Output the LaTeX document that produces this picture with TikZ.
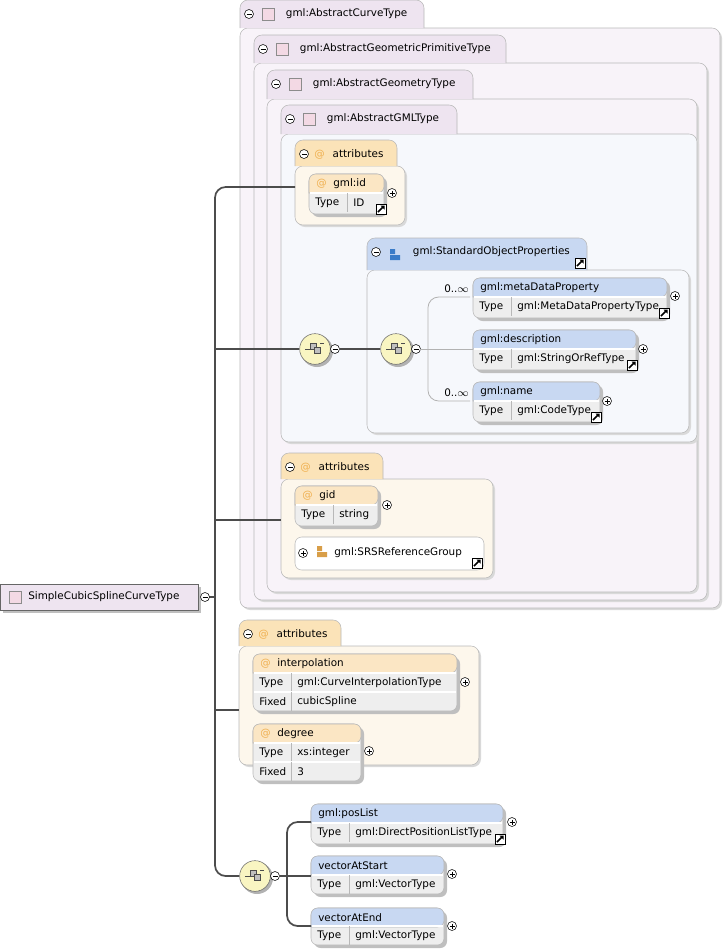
\documentclass[tikz,border=0pt]{standalone}
\usepackage{fontspec}
\setmainfont{DejaVu Sans}
\begin{document}
\definecolor{lav}{HTML}{F8F3F9}
\definecolor{lavtab}{HTML}{EEE4F0}
\definecolor{bord}{HTML}{B8B8B8}
\definecolor{attbody}{HTML}{FDF7EC}
\definecolor{atttab}{HTML}{FBE3B8}
\definecolor{blhdr}{HTML}{C8D8F2}
\definecolor{blbody}{HTML}{F6F8FC}
\definecolor{orhdr}{HTML}{FBE6C4}
\definecolor{rowg}{HTML}{EEEEEE}
\definecolor{atc}{HTML}{F0B050}
\definecolor{seqf}{HTML}{F9F5C2}
\definecolor{grpblue}{HTML}{3A7BC8}
\begin{tikzpicture}[x=0.75pt,y=-0.75pt,font=\fontsize{7.8}{9}\selectfont,
  txt/.style={inner sep=0pt,anchor=west},
  conn/.style={draw=black!70,line width=1.3pt,rounded corners=8},
  thin/.style={draw=black!30,line width=0.6pt,rounded corners=8}]
\useasboundingbox (0,0) rectangle (723,951);
\newcommand\mn[2]{\draw[black,fill=white] (#1,#2) circle (4.5); \draw[black] (#1-2.5,#2) -- (#1+2.5,#2);}
\newcommand\pl[2]{\mn{#1}{#2}\draw[black] (#1,#2-2.5) -- (#1,#2+2.5);}
\newcommand\ctr[9]{%
 \fill[black!15,rounded corners=6] (#1+2,#4+2) rectangle (#5+2,#6+2);
 \draw[bord,fill=#8,rounded corners=6] (#1,#4) rectangle (#5,#6);
 \draw[bord,fill=#7,rounded corners=6] (#1,#4) -- (#1,#2) -- (#3,#2) -- (#3,#4);
 \mn{#1+9}{#2+14}
 \node[txt] at (#1+19,#2+14) {#9};}
\newcommand\elm[7]{%
 \fill[black!25,rounded corners=5] (#2+3,#3+3) rectangle (#4+3,#5+3);
 \draw[bord,fill=rowg,rounded corners=5] (#2,#3) rectangle (#4,#5);
 \draw[bord,fill=#6,rounded corners=5] (#2,#3+19) -- (#2,#3) -- (#4,#3) -- (#4,#3+19) [sharp corners] -- cycle;
 \node[txt] (#1) at (#2+7,#3+9.5) {#7};}
\newcommand\rw[5]{%
 \draw[white,line width=1pt] (#1+1,#2) -- (#3-1,#2);
 \draw[bord] (#1+38,#2) -- (#1+38,#2+19);
 \node[txt] at (#1+6,#2+9.5) {#4};
 \node[txt] at (#1+44,#2+9.5) {#5};}
\newcommand\lnk[2]{\draw[black,fill=white] (#1-5,#2-5) rectangle (#1+5,#2+5); \draw[black,line width=1.2pt] (#1-3,#2+3) -- (#1+2.5,#2-2.5); \fill (#1+3.5,#2-3.5) -- (#1-0.5,#2-3.5) -- (#1+3.5,#2+0.5) -- cycle;}
\newcommand\seq[3]{%
 \fill[black!30] (#2+2,#3+2) circle (16);
 \node[circle,draw=black!60,fill=seqf,minimum size=23pt,inner sep=0pt] (#1) at (#2,#3) {};
 \draw[black!70,fill=black!25] (#2-5,#3-6) rectangle (#2+1,#3);
 \draw[black!70,fill=black!25] (#2-1,#3-2) rectangle (#2+5,#3+4);
 \draw[black!70] (#2-10,#3) -- (#2-5,#3) (#2+5,#3-6) -- (#2+9,#3-6);
 \mn{#2+20}{#3}}
\ctr{240}{0}{424}{28}{720}{608}{lavtab}{lav}{\hspace{20pt}gml:AbstractCurveType}
\ctr{254}{35}{506}{63}{707}{600}{lavtab}{lav}{\hspace{20pt}gml:AbstractGeometricPrimitiveType}
\ctr{267}{70}{473}{99}{697}{592}{lavtab}{lav}{\hspace{20pt}gml:AbstractGeometryType}
\ctr{281}{105}{457}{134}{697}{442}{lavtab}{blbody}{\hspace{20pt}gml:AbstractGMLType}
\foreach \x/\y in {262/0,276/35,289/70,303/105}{\draw[black!45,fill=lavtab!70!purple!40] (\x,\y+8) rectangle (\x+12,\y+20);}
\ctr{295}{140}{397}{166}{405}{225}{atttab}{attbody}{\textcolor{atc}{@}\hspace{6pt}attributes}
\elm{gid1}{309}{174}{384}{214}{orhdr}{\textcolor{atc}{@}\hspace{5pt}gml:id}
\rw{309}{193}{384}{Type}{ID}\lnk{381}{209}\pl{392}{193}
\ctr{367}{238}{587}{270}{689}{433}{blhdr}{blbody}{\hspace{20pt}gml:StandardObjectProperties}
\fill[grpblue] (390,249) rectangle (395,254) (395,255) rectangle (400,260) (390,255) rectangle (395,260);
\lnk{580}{263}
\elm{mdp}{473}{278}{667}{318}{blhdr}{gml:metaDataProperty}
\rw{473}{297}{667}{Type}{gml:MetaDataPropertyType}\lnk{664}{313}\pl{675}{296}
\elm{desc}{473}{330}{636}{370}{blhdr}{gml:description}
\rw{473}{349}{636}{Type}{gml:StringOrRefType}\lnk{632}{365}\pl{643}{349}
\elm{nm}{473}{382}{600}{422}{blhdr}{gml:name}
\rw{473}{401}{600}{Type}{gml:CodeType}\lnk{596}{417}\pl{607}{401}
\node[txt] at (444,289) {0..$\infty$};
\node[txt] at (444,393) {0..$\infty$};
\seq{s1}{315}{349}
\seq{s2}{396}{349}
\draw[thin] (420,349) -- (473,349);
\draw[thin] (470,297) -- (428,297) -- (428,401) -- (470,401);
\draw[conn] (340,349) -- (380,349);
\ctr{281}{453}{383}{479}{493}{578}{atttab}{attbody}{\textcolor{atc}{@}\hspace{6pt}attributes}
\elm{gid}{295}{486}{378}{526}{orhdr}{\textcolor{atc}{@}\hspace{5pt}gid}
\rw{295}{505}{378}{Type}{string}\pl{387}{505}
\draw[bord,fill=white,rounded corners=5] (295,537) rectangle (484,570);
\pl{303}{553}
\fill[atc!90!black] (317,546) rectangle (322,551) (322,552) rectangle (327,557) (317,552) rectangle (322,557);
\node[txt] (srs) at (334,553) {gml:SRSReferenceGroup};
\lnk{477}{563}
\ctr{239}{620}{341}{646}{479}{765}{atttab}{attbody}{\textcolor{atc}{@}\hspace{6pt}attributes}
\elm{interp}{253}{654}{457}{711}{orhdr}{\textcolor{atc}{@}\hspace{5pt}interpolation}
\rw{253}{673}{457}{Type}{gml:CurveInterpolationType}
\rw{253}{692}{457}{Fixed}{cubicSpline}\pl{465}{682}
\elm{deg}{253}{724}{361}{781}{orhdr}{\textcolor{atc}{@}\hspace{5pt}degree}
\rw{253}{743}{361}{Type}{xs:integer}
\rw{253}{762}{361}{Fixed}{3}\pl{369}{751}
\fill[black!25] (3,587) rectangle (201,613);
\draw[black!60,fill=lavtab] (0,584) rectangle (198,610);
\draw[black!45,fill=lavtab!70!purple!40] (9,591) rectangle (21,603);
\node[txt] (root) at (28,597) {SimpleCubicSplineCurveType};
\seq{s3}{255}{876}
\elm{pos}{311}{804}{503}{844}{blhdr}{gml:posList}
\rw{311}{823}{503}{Type}{gml:DirectPositionListType}\lnk{500}{839}\pl{512}{822}
\elm{vas}{311}{856}{444}{894}{blhdr}{vectorAtStart}
\rw{311}{875}{444}{Type}{gml:VectorType}\pl{452}{874}
\elm{vae}{311}{908}{444}{945}{blhdr}{vectorAtEnd}
\rw{311}{926}{444}{Type}{gml:VectorType}\pl{452}{926}
\draw[conn] (295,187) -- (215,187) -- (215,876) -- (239,876);
\draw[conn] (215,349) -- (299,349);
\draw[conn] (215,520) -- (281,520);
\draw[conn] (215,710) -- (239,710);
\draw[conn] (209,597) -- (215,597);
\draw[conn] (311,822) -- (287,822) -- (287,926) -- (311,926);
\draw[conn] (280,876) -- (311,876);
\mn{205}{597}
\end{tikzpicture}
\end{document}
